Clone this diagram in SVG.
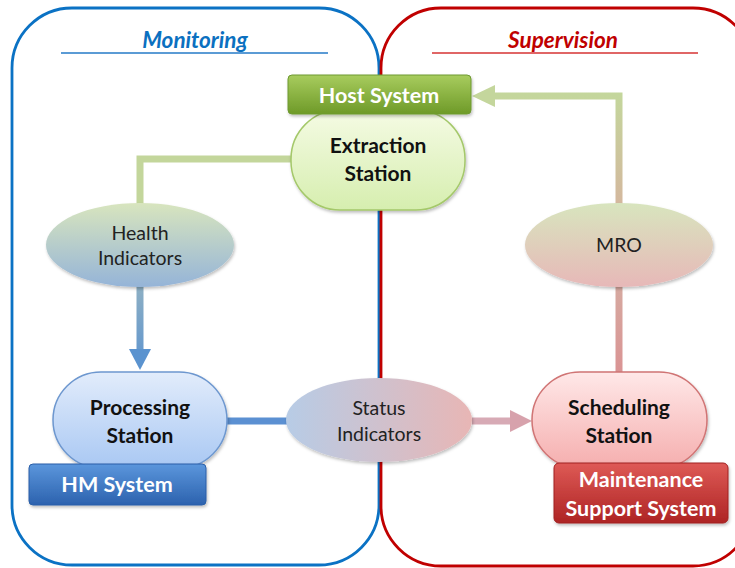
<svg xmlns="http://www.w3.org/2000/svg" width="735" height="568" viewBox="0 0 735 568">
<defs>
<style>
.t{font-family:Lato,"Open Sans","Liberation Sans",sans-serif;text-anchor:middle}
.b{font-weight:bold;font-size:21px;fill:#111}
.w{font-weight:bold;font-size:21.5px;fill:#fff}
.r{font-size:19.5px;fill:#222}
.hd{font-weight:bold;font-style:italic;font-size:22.5px}
</style>
<linearGradient id="gHost" x1="0" y1="0" x2="0" y2="1"><stop offset="0" stop-color="#A8CC5E"/><stop offset="1" stop-color="#6E9A28"/></linearGradient>
<linearGradient id="gHM" x1="0" y1="0" x2="0" y2="1"><stop offset="0" stop-color="#5B96DC"/><stop offset="1" stop-color="#2C62AE"/></linearGradient>
<linearGradient id="gMS" x1="0" y1="0" x2="0" y2="1"><stop offset="0" stop-color="#DE5A56"/><stop offset="1" stop-color="#AE2424"/></linearGradient>
<linearGradient id="gEx" x1="0" y1="0" x2="0" y2="1"><stop offset="0" stop-color="#F5FBE4"/><stop offset="1" stop-color="#D6EEAF"/></linearGradient>
<linearGradient id="gPr" x1="0" y1="0" x2="0" y2="1"><stop offset="0" stop-color="#E2ECFB"/><stop offset="1" stop-color="#A9C8F3"/></linearGradient>
<linearGradient id="gSc" x1="0" y1="0" x2="0" y2="1"><stop offset="0" stop-color="#FFE8E8"/><stop offset="1" stop-color="#F5AEAE"/></linearGradient>
<linearGradient id="gHe" x1="0" y1="0" x2="0" y2="1"><stop offset="0" stop-color="#D8E5BE"/><stop offset="1" stop-color="#95B4D8"/></linearGradient>
<linearGradient id="gMR" x1="0" y1="0" x2="0" y2="1"><stop offset="0" stop-color="#D8E5BE"/><stop offset="1" stop-color="#E7B8B8"/></linearGradient>
<linearGradient id="gSt" x1="0" y1="0" x2="1" y2="0"><stop offset="0" stop-color="#B7CCE6"/><stop offset="1" stop-color="#E8B6B5"/></linearGradient>
<linearGradient id="gHeLine" gradientUnits="userSpaceOnUse" x1="0" y1="287" x2="0" y2="370"><stop offset="0" stop-color="#8DAFC4"/><stop offset="1" stop-color="#5C93CF"/></linearGradient>
<linearGradient id="gMRLine" gradientUnits="userSpaceOnUse" x1="0" y1="96" x2="0" y2="203"><stop offset="0" stop-color="#C4D69C"/><stop offset="1" stop-color="#D4B89E"/></linearGradient>
<linearGradient id="gScLine" gradientUnits="userSpaceOnUse" x1="0" y1="287" x2="0" y2="372"><stop offset="0" stop-color="#D6A9A0"/><stop offset="1" stop-color="#DA9494"/></linearGradient>
<filter id="sh" x="-10%" y="-10%" width="120%" height="130%"><feDropShadow dx="1" dy="2" stdDeviation="1.5" flood-color="#000" flood-opacity="0.25"/></filter>
</defs>

<g id="containers">
<rect x="12" y="8" width="367" height="557" rx="60" fill="none" stroke="#0B72C4" stroke-width="2.8"/>
<rect x="381" y="8" width="372" height="558" rx="60" fill="none" stroke="#C00000" stroke-width="2.8"/>
<text class="t hd" x="195" y="48" fill="#0B70C0">Monitoring</text>
<line x1="61" y1="53" x2="328" y2="53" stroke="#5B9BD5" stroke-width="2"/>
<text class="t hd" x="563" y="48" fill="#C00000">Supervision</text>
<line x1="432" y1="53" x2="698" y2="53" stroke="#E06666" stroke-width="2"/>
</g>

<g id="connectors">
<polyline points="292,159 140,159 140,204" fill="none" stroke="#C3D69B" stroke-width="7"/>
<line x1="140" y1="286" x2="140" y2="352" stroke="url(#gHeLine)" stroke-width="7"/>
<polygon points="129,349 151,349 140,370" fill="#5B93CF"/>
<line x1="226" y1="421" x2="288" y2="421" stroke="#5B90D2" stroke-width="7"/>
<line x1="472" y1="421" x2="512" y2="421" stroke="#D7AAB5" stroke-width="7"/>
<polygon points="510,410 532,421 510,432" fill="#D7A2AC"/>
<line x1="619" y1="372" x2="619" y2="286" stroke="url(#gScLine)" stroke-width="7"/>
<polyline points="619,204 619,96 492,96" fill="none" stroke="url(#gMRLine)" stroke-width="7"/>
<polygon points="495,85 472,96 495,107" fill="#C4D69C"/>
</g>

<g id="extraction">
<rect x="291" y="110" width="174" height="100" rx="49" fill="url(#gEx)" stroke="#A4C86A" stroke-width="1.5" filter="url(#sh)"/>
<text class="t b" x="378" y="153">Extraction</text>
<text class="t b" x="378" y="181">Station</text>
</g>
<g id="host">
<rect x="288" y="75" width="183" height="39" rx="4" fill="url(#gHost)" stroke="#6E9A30" stroke-width="1" filter="url(#sh)"/>
<text class="t w" x="379" y="103">Host System</text>
</g>

<g id="health">
<ellipse cx="140" cy="245" rx="94" ry="42" fill="url(#gHe)" filter="url(#sh)"/>
<text class="t r" x="140" y="240">Health</text>
<text class="t r" x="140" y="265">Indicators</text>
</g>

<g id="processing">
<rect x="53" y="372" width="174" height="96" rx="48" fill="url(#gPr)" stroke="#6D97CF" stroke-width="1.5" filter="url(#sh)"/>
<text class="t b" x="140" y="415">Processing</text>
<text class="t b" x="140" y="443">Station</text>
</g>
<g id="hm">
<rect x="29" y="464" width="177" height="41" rx="4" fill="url(#gHM)" stroke="#2A5FA8" stroke-width="1" filter="url(#sh)"/>
<text class="t w" x="117" y="492">HM System</text>
</g>

<g id="status">
<ellipse cx="379" cy="420" rx="93" ry="42" fill="url(#gSt)" filter="url(#sh)"/>
<text class="t r" x="379" y="415">Status</text>
<text class="t r" x="379" y="441">Indicators</text>
</g>

<g id="mro">
<ellipse cx="619" cy="245" rx="94" ry="42" fill="url(#gMR)" filter="url(#sh)"/>
<text class="t r" x="619" y="252">MRO</text>
</g>

<g id="scheduling">
<rect x="532" y="372" width="175" height="96" rx="48" fill="url(#gSc)" stroke="#D07474" stroke-width="1.5" filter="url(#sh)"/>
<text class="t b" x="619" y="415">Scheduling</text>
<text class="t b" x="619" y="443">Station</text>
</g>
<g id="maintenance">
<rect x="554" y="463" width="174" height="60" rx="5" fill="url(#gMS)" stroke="#A02020" stroke-width="1" filter="url(#sh)"/>
<text class="t w" x="641" y="487">Maintenance</text>
<text class="t w" x="641" y="516">Support System</text>
</g>
</svg>
